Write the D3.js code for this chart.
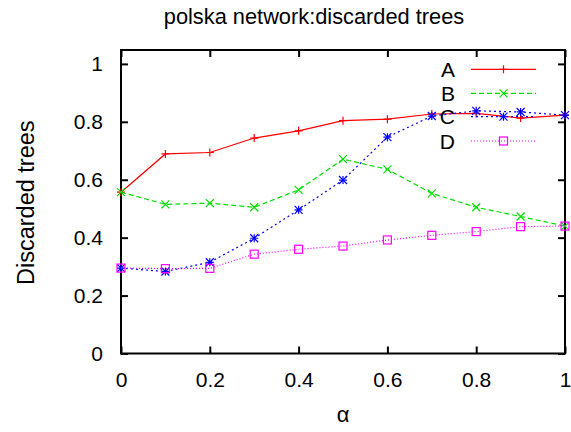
<!DOCTYPE html>
<html>
<head>
<meta charset="utf-8">
<script src="https://cdn.jsdelivr.net/npm/d3@7"></script>
<style>
  html, body { margin: 0; padding: 0; background: #fff; }
  svg { display: block; font-family: "Liberation Sans", Arial, Helvetica, sans-serif; }
</style>
</head>
<body>
<svg id="chart" width="571" height="432"></svg>
<script>
// alpha values along the x axis
const alphas = [0, 0.1, 0.2, 0.3, 0.4, 0.5, 0.6, 0.7, 0.8, 0.9, 1];

// fraction of discarded trees for each variant
const seriesA = [0.557, 0.689, 0.694, 0.744, 0.769, 0.804, 0.809, 0.827, 0.829, 0.813, 0.823];
const seriesB = [0.557, 0.515, 0.519, 0.505, 0.565, 0.671, 0.636, 0.553, 0.505, 0.473, 0.440];
const seriesC = [0.295, 0.283, 0.315, 0.398, 0.496, 0.599, 0.747, 0.820, 0.838, 0.834, 0.823];
const seriesD = [0.295, 0.293, 0.294, 0.343, 0.360, 0.371, 0.392, 0.408, 0.421, 0.438, 0.440];

const seriesNames = ["A", "B", "C", "D"];
const xTicks = [0, 0.2, 0.4, 0.6, 0.8, 1];
const yTicks = [0, 0.2, 0.4, 0.6, 0.8, 1];

const titleText = "polska network:discarded trees";
const xLabel = "\u03b1";
const yLabel = "Discarded trees";

const styles = [
  { color: "#ff0000", dash: null,  marker: "plus" },
  { color: "#00e000", dash: "5,3", marker: "cross" },
  { color: "#0000ff", dash: "2,3", marker: "star" },
  { color: "#ff00ff", dash: "1,2", marker: "square" }
];

const svg = d3.select("#chart");
const plotLeft = 121, plotRight = 565, plotTop = 50, plotBottom = 353.5;

const x = d3.scaleLinear().domain([0, 1]).range([plotLeft, plotRight]);
// y range runs a little past 1 so the 1.0 tick sits below the frame
const y = d3.scaleLinear().domain([0, 1.048]).range([plotBottom, plotTop]);

const fontSize = 21;

// title
svg.append("text")
  .attr("x", 314).attr("y", 23.5)
  .attr("text-anchor", "middle")
  .attr("font-size", 21.8)
  .text(titleText);

// inward ticks on all four sides via d3 axes
const tickLen = 7;
svg.append("g").attr("transform", `translate(0,${plotBottom})`)
  .call(d3.axisBottom(x).tickValues(xTicks).tickSize(-tickLen).tickFormat(d3.format("")).tickPadding(19))
  .call(g => g.select(".domain").remove())
  .call(g => g.selectAll("line").attr("stroke", "#000").attr("stroke-width", 2))
  .call(g => g.selectAll("text").attr("font-size", fontSize).attr("fill", "#000")
      .attr("font-family", "Liberation Sans, Arial, sans-serif"));

svg.append("g").attr("transform", `translate(0,${plotTop})`)
  .call(d3.axisTop(x).tickValues(xTicks).tickSize(-tickLen).tickFormat(""))
  .call(g => g.select(".domain").remove())
  .call(g => g.selectAll("line").attr("stroke", "#000").attr("stroke-width", 2));

svg.append("g").attr("transform", `translate(${plotLeft},0)`)
  .call(d3.axisLeft(y).tickValues(yTicks).tickSize(-tickLen).tickFormat(d3.format("")).tickPadding(18))
  .call(g => g.select(".domain").remove())
  .call(g => g.selectAll("line").attr("stroke", "#000").attr("stroke-width", 2))
  .call(g => g.selectAll("text").attr("font-size", fontSize).attr("fill", "#000")
      .attr("font-family", "Liberation Sans, Arial, sans-serif"));

svg.append("g").attr("transform", `translate(${plotRight},0)`)
  .call(d3.axisRight(y).tickValues(yTicks).tickSize(-tickLen).tickFormat(""))
  .call(g => g.select(".domain").remove())
  .call(g => g.selectAll("line").attr("stroke", "#000").attr("stroke-width", 2));

// frame
svg.append("rect")
  .attr("x", plotLeft).attr("y", plotTop)
  .attr("width", plotRight - plotLeft).attr("height", plotBottom - plotTop)
  .attr("fill", "none").attr("stroke", "#000").attr("stroke-width", 2);

// axis labels
svg.append("text")
  .attr("x", x(0.5)).attr("y", 421.5)
  .attr("text-anchor", "middle")
  .attr("font-size", 22)
  .text(xLabel);

svg.append("text")
  .attr("transform", `translate(33.5,${(plotTop + plotBottom) / 2 + 1}) rotate(-90)`)
  .attr("text-anchor", "middle")
  .attr("font-size", 23.5)
  .text(yLabel);

// marker drawing
function drawMarker(g, type, cx, cy, color) {
  const s = 4;
  if (type === "plus" || type === "star") {
    g.append("path").attr("d", `M${cx - s},${cy}H${cx + s}M${cx},${cy - s}V${cy + s}`)
      .attr("stroke", color).attr("stroke-width", 1.2).attr("fill", "none");
  }
  if (type === "cross" || type === "star") {
    g.append("path").attr("d", `M${cx - s},${cy - s}L${cx + s},${cy + s}M${cx - s},${cy + s}L${cx + s},${cy - s}`)
      .attr("stroke", color).attr("stroke-width", 1.2).attr("fill", "none");
  }
  if (type === "square") {
    g.append("rect").attr("x", cx - s).attr("y", cy - s).attr("width", 2 * s).attr("height", 2 * s)
      .attr("stroke", color).attr("stroke-width", 1.2).attr("fill", "none");
  }
}

const allSeries = [seriesA, seriesB, seriesC, seriesD];
const line = d3.line().x(d => x(d[0])).y(d => y(d[1]));

allSeries.forEach((vals, i) => {
  const st = styles[i];
  const pts = alphas.map((a, k) => [a, vals[k]]);
  const g = svg.append("g");
  g.append("path").datum(pts)
    .attr("d", line)
    .attr("fill", "none")
    .attr("stroke", st.color)
    .attr("stroke-width", 1.2)
    .attr("stroke-dasharray", st.dash);
  pts.forEach(p => drawMarker(g, st.marker, x(p[0]), y(p[1]), st.color));
});

// legend
const legendRows = [69.3, 93.3, 116.7, 141];
seriesNames.forEach((name, i) => {
  const st = styles[i];
  const ly = legendRows[i];
  const g = svg.append("g");
  g.append("text")
    .attr("x", 455).attr("y", ly + 7.5)
    .attr("text-anchor", "end")
    .attr("font-size", fontSize)
    .text(name);
  g.append("line")
    .attr("x1", 471).attr("x2", 536).attr("y1", ly).attr("y2", ly)
    .attr("stroke", st.color).attr("stroke-width", 1.2)
    .attr("stroke-dasharray", st.dash);
  drawMarker(g, st.marker, 503.5, ly, st.color);
});
</script>
</body>
</html>
